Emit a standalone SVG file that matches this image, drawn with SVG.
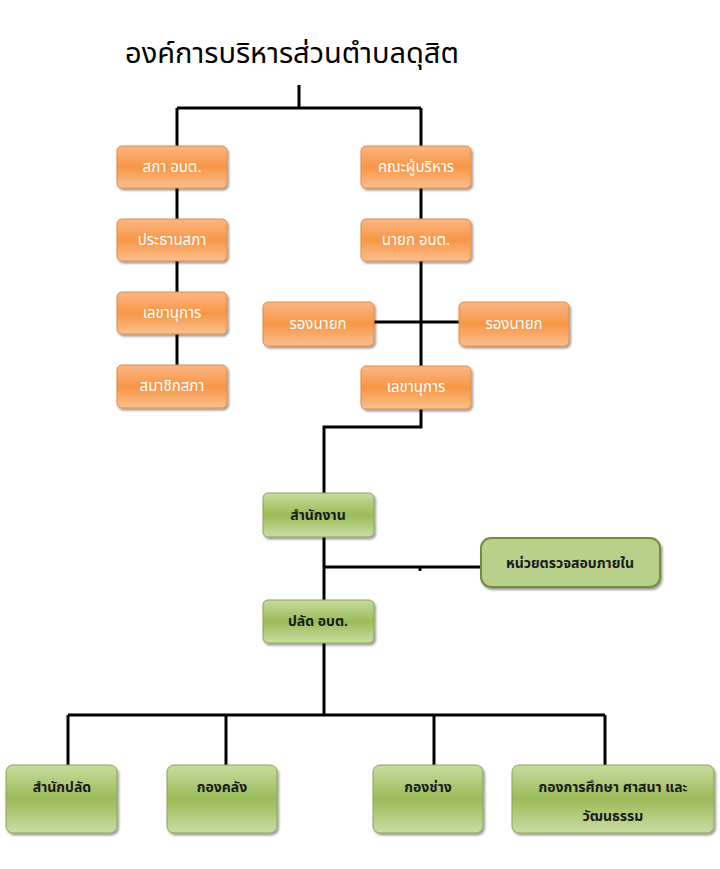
<svg xmlns="http://www.w3.org/2000/svg" width="720" height="869" viewBox="0 0 720 869">
<defs>
<linearGradient id="og" x1="0" y1="0" x2="0" y2="1">
<stop offset="0" stop-color="#fbb684"/>
<stop offset="0.5" stop-color="#f79646"/>
<stop offset="1" stop-color="#fbbf8e"/>
</linearGradient>
<linearGradient id="gg" x1="0" y1="0" x2="0" y2="1">
<stop offset="0" stop-color="#c7dc9e"/>
<stop offset="0.5" stop-color="#9bbb59"/>
<stop offset="1" stop-color="#c9dda3"/>
</linearGradient>
<filter id="sh" x="-10%" y="-10%" width="130%" height="140%">
<feDropShadow dx="1.5" dy="2" stdDeviation="1" flood-color="#000" flood-opacity="0.4"/>
</filter>
</defs>
<style>
.o{fill:url(#og);stroke:#e38a40;stroke-width:1;filter:url(#sh)}
.g{fill:url(#gg);stroke:#88a650;stroke-width:1;filter:url(#sh)}
.gs{fill:#b8d08a;stroke:#6f8f3b;stroke-width:2;filter:url(#sh)}
.ot{font-family:"Noto Sans Thai","Noto Sans","DejaVu Sans",sans-serif;font-size:15px;fill:#fff;text-anchor:middle}
.gt{font-family:"Noto Sans Thai","Noto Sans","DejaVu Sans",sans-serif;font-size:14px;font-weight:bold;fill:#1a1a1a;text-anchor:middle}
.ln{fill:none;stroke:#000;stroke-width:3}
</style>
<rect width="720" height="869" fill="#fff"/>
<text x="292" y="63" font-family="'Noto Sans Thai','Noto Sans','DejaVu Sans',sans-serif" font-size="29" text-anchor="middle" fill="#000">องค์การบริหารส่วนตำบลดุสิต</text>
<g id="connectors">
<path class="ln" d="M299 85V108M177 108H421M177 108V146M421 108V146"/>
<path class="ln" d="M177 188V365"/>
<path class="ln" d="M421 188V366M374 322H459"/>
<path class="ln" d="M421 409V427H324V493"/>
<path class="ln" d="M324 537V600M324 567H481M420 567V571"/>
<path class="ln" d="M324 643V715M68 715H605M68 715V765M226 715V765M434 715V765M605 715V765"/>
</g>
<g id="n1"><rect class="o" x="117" y="146" width="110" height="42" rx="5"/><text class="ot" x="172" y="172">สภา อบต.</text></g>
<g id="n2"><rect class="o" x="117" y="219" width="110" height="42" rx="5"/><text class="ot" x="172" y="245">ประธานสภา</text></g>
<g id="n3"><rect class="o" x="117" y="292" width="110" height="42" rx="5"/><text class="ot" x="172" y="318">เลขานุการ</text></g>
<g id="n4"><rect class="o" x="117" y="365" width="110" height="43" rx="5"/><text class="ot" x="172" y="391">สมาชิกสภา</text></g>
<g id="n5"><rect class="o" x="361" y="146" width="110" height="42" rx="5"/><text class="ot" x="416" y="172">คณะผู้บริหาร</text></g>
<g id="n6"><rect class="o" x="361" y="219" width="110" height="42" rx="5"/><text class="ot" x="416" y="245">นายก อบต.</text></g>
<g id="n7"><rect class="o" x="263" y="302" width="111" height="44" rx="5"/><text class="ot" x="318" y="329">รองนายก</text></g>
<g id="n8"><rect class="o" x="459" y="302" width="110" height="44" rx="5"/><text class="ot" x="514" y="329">รองนายก</text></g>
<g id="n9"><rect class="o" x="361" y="366" width="110" height="43" rx="5"/><text class="ot" x="416" y="392">เลขานุการ</text></g>
<g id="n10"><rect class="g" x="263" y="493" width="111" height="44" rx="5"/><text class="gt" x="318" y="520">สำนักงาน</text></g>
<g id="n11"><rect class="gs" x="481" y="538" width="179" height="49" rx="10"/><text class="gt" x="570" y="568">หน่วยตรวจสอบภายใน</text></g>
<g id="n12"><rect class="g" x="263" y="600" width="111" height="43" rx="5"/><text class="gt" x="318" y="626">ปลัด อบต.</text></g>
<g id="n13"><rect class="g" x="6" y="765" width="111" height="68" rx="7"/><text class="gt" x="62" y="792">สำนักปลัด</text></g>
<g id="n14"><rect class="g" x="167" y="765" width="110" height="68" rx="7"/><text class="gt" x="222" y="792">กองคลัง</text></g>
<g id="n15"><rect class="g" x="373" y="765" width="110" height="68" rx="7"/><text class="gt" x="428" y="792">กองช่าง</text></g>
<g id="n16"><rect class="g" x="512" y="765" width="202" height="68" rx="7"/><text class="gt" x="613" y="792">กองการศึกษา ศาสนา และ</text><text class="gt" x="613" y="821">วัฒนธรรม</text></g>
</svg>
